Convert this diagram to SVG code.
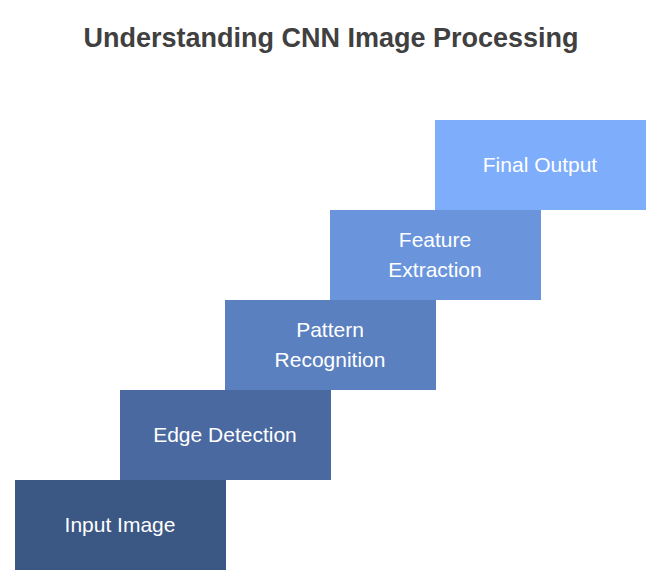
<svg xmlns="http://www.w3.org/2000/svg" width="662" height="586" viewBox="0 0 662 586">
<style>
.t{font-family:"Liberation Sans",Arial,sans-serif;font-size:21px;fill:#fff;text-anchor:middle}
.h{font-family:"Liberation Sans",Arial,sans-serif;font-size:27px;font-weight:bold;fill:#404040;text-anchor:middle}
</style>
<rect width="662" height="586" fill="#fff"/>
<text class="h" x="331" y="47">Understanding CNN Image Processing</text>
<g id="input"><rect x="15" y="480" width="211" height="90" fill="#3b5784"/><text class="t" x="120" y="532">Input Image</text></g>
<g id="edge"><rect x="120" y="390" width="211" height="90" fill="#4a69a0"/><text class="t" x="225" y="442">Edge Detection</text></g>
<g id="pattern"><rect x="225" y="300" width="211" height="90" fill="#5a80c0"/><text class="t" x="330" y="337">Pattern</text><text class="t" x="330" y="367">Recognition</text></g>
<g id="feature"><rect x="330" y="210" width="211" height="90" fill="#6a95dc"/><text class="t" x="435" y="247">Feature</text><text class="t" x="435" y="277">Extraction</text></g>
<g id="final"><rect x="435" y="120" width="211" height="90" fill="#7eadfc"/><text class="t" x="540" y="172">Final Output</text></g>
<g id="connectors"/>
</svg>
